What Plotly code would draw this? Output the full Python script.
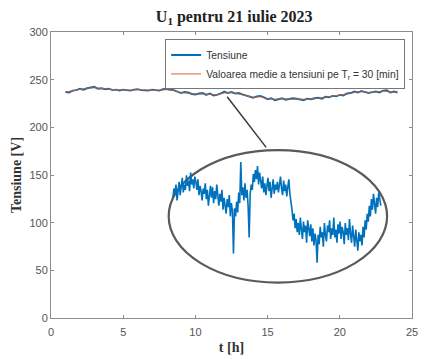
import numpy as np
import plotly.graph_objects as go

# ---- data ----
# voltage samples every 15 min from 1 h to 24 h
t_hours = list(np.arange(1.0, 24.001, 0.25))
tensiune = [237.0, 236.5, 238.5, 239.0, 240.5, 239.5, 241.0, 241.5, 242.5, 240.5, 241.0, 240.0,
            240.5, 239.0, 239.5, 238.5, 239.5, 239.0, 238.5, 239.5, 240.0, 239.0, 239.0, 238.5,
            239.5, 239.0, 238.5, 240.0, 240.5, 239.5, 239.0, 237.5, 236.0, 237.0, 236.5, 235.0,
            234.5, 235.5, 236.0, 234.0, 235.5, 233.5, 234.0, 235.5, 237.5, 236.0, 237.0, 235.5,
            236.0, 234.5, 233.5, 232.0, 231.0, 232.5, 233.0, 231.5, 229.5, 230.5, 228.5, 229.5,
            230.5, 229.0, 229.5, 230.5, 230.0, 229.0, 228.5, 230.0, 229.5, 230.5, 231.0, 230.0,
            232.0, 231.5, 233.0, 232.5, 234.0, 233.5, 235.5, 236.0, 237.5, 236.5, 238.0, 237.0,
            236.0, 237.0, 237.5, 236.5, 238.5, 239.0, 236.5, 237.5, 236.5]
# 30-min mean
t_medie = [1.0, 1.5, 2.0, 2.5, 3.0, 3.5, 4.0, 4.5, 5.0, 5.5, 6.0, 6.5, 7.0, 7.5, 8.0, 8.5,
           9.0, 9.5, 10.0, 10.5, 11.0, 11.5, 12.0, 12.5, 13.0, 13.5, 14.0, 14.5, 15.0, 15.5,
           16.0, 16.5, 17.0, 17.5, 18.0, 18.5, 19.0, 19.5, 20.0, 20.5, 21.0, 21.5, 22.0,
           22.5, 23.0, 23.5, 24.0]
medie = [237.0, 238.5, 240.0, 241.0, 241.5, 240.5, 240.0, 239.5, 239.0, 239.0, 239.5,
         239.0, 239.0, 239.0, 239.5, 238.5, 236.5, 236.0, 235.0, 235.0, 234.5, 234.0,
         236.0, 236.5, 235.0, 233.5, 231.5, 232.0, 230.0, 229.5, 230.0, 229.5, 229.5,
         229.0, 229.5, 230.5, 231.5, 232.5, 233.5, 235.0, 236.5, 237.5, 236.5, 237.0,
         238.0, 237.0, 237.0]

# zoomed detail (inset) samples, arbitrary units
inset_values = [64, 71, 67, 74, 62, 70, 76, 66, 72, 79, 68, 74, 70, 81, 73, 77, 69, 83, 74, 78,
                71, 80, 76, 70, 78, 66, 73, 69, 62, 71, 67, 75, 63, 70, 58, 68, 73, 64, 72, 60,
                69, 63, 74, 66, 58, 67, 61, 70, 55, 64, 59, 52, 63, 57, 66, 50, 60, 54, 22, 56,
                50, 61, 53, 68, 60, 91, 66, 72, 62, 75, 64, 70, 58, 34, 67, 74, 70, 82, 76, 85,
                78, 88, 74, 83, 77, 71, 80, 68, 75, 66, 73, 79, 69, 76, 64, 72, 78, 67, 74, 70,
                76, 68, 73, 80, 71, 66, 77, 69, 74, 65, 72, 78, 67, 62, 55, 47, 52, 41, 48, 38,
                45, 36, 49, 40, 33, 46, 38, 43, 30, 47, 39, 35, 44, 31, 41, 28, 37, 32, 15, 36,
                29, 42, 34, 38, 27, 45, 36, 31, 43, 38, 47, 33, 41, 36, 49, 34, 40, 30, 44, 37,
                46, 33, 42, 38, 29, 45, 36, 41, 32, 48, 37, 30, 43, 35, 27, 40, 33, 24, 38, 31,
                36, 28, 42, 34, 47, 40, 52, 46, 58, 50, 63, 55, 67, 59, 52, 64, 57, 68, 61, 58]
inset_index = list(range(len(inset_values)))

x_ticks = [0, 5, 10, 15, 20, 25]
y_ticks = [0, 50, 100, 150, 200, 250, 300]

# decoration geometry
pointer_start = (12.2, 232)
pointer_end = (14.9, 179)
ellipse_box = dict(x0=0.326, x1=0.931, y0=0.124, y1=0.587)

BLUE = "#0072BD"
ORANGE = "#D95319"
AX = "#8c8c8c"
TXT = "#555555"
SANS = "Liberation Sans, Arial, sans-serif"
SERIF = "Liberation Serif, Times New Roman, serif"

fig = go.Figure()
fig.add_trace(go.Scatter(x=t_hours, y=tensiune, mode="lines", name="Tensiune",
                         line=dict(color=BLUE, width=1.9)))
fig.add_trace(go.Scatter(x=t_medie, y=medie, mode="lines",
                         name="Valoarea medie a tensiuni pe T<sub>r</sub> = 30 [min]",
                         line=dict(color=ORANGE, width=0.9)))
fig.add_trace(go.Scatter(x=inset_index, y=inset_values, mode="lines", showlegend=False,
                         xaxis="x2", yaxis="y2", line=dict(color=BLUE, width=1.6)))

fig.add_shape(type="circle", xref="paper", yref="paper", layer="below",
              fillcolor="white", line=dict(color="#5a5a5a", width=2.2), **ellipse_box)
fig.add_shape(type="line", xref="x", yref="y",
              x0=pointer_start[0], y0=pointer_start[1], x1=pointer_end[0], y1=pointer_end[1],
              line=dict(color="#3a3a3a", width=1.5))

axis_common = dict(showgrid=False, zeroline=False, showline=True, linecolor=AX, linewidth=1,
                   mirror="ticks", ticks="inside", ticklen=3, tickcolor=AX,
                   tickfont=dict(family=SANS, size=11, color=TXT))

fig.update_layout(
    width=425, height=359,
    margin=dict(l=51, r=7, t=32, b=41),
    plot_bgcolor="rgba(0,0,0,0)", paper_bgcolor="white",
    title=dict(text="<b>U<sub>1</sub> pentru 21 iulie 2023</b>", x=0.551, xanchor="center",
               y=0.955, yanchor="middle",
               font=dict(family=SERIF, size=16, color="#222222")),
    xaxis=dict(range=[0, 25], tickvals=x_ticks, domain=[0, 1], ticklabelstandoff=4,
               title=dict(text="<b>t [h]</b>", standoff=4,
                          font=dict(family=SERIF, size=14, color="#333333")),
               **axis_common),
    yaxis=dict(range=[0, 300], tickvals=y_ticks, domain=[0, 1],
               title=dict(text="<b>Tensiune [V]</b>", standoff=4,
                          font=dict(family=SERIF, size=14, color="#333333")),
               **axis_common),
    xaxis2=dict(domain=[ellipse_box["x0"], ellipse_box["x1"]], range=[-4, 205],
                anchor="y2", visible=False),
    yaxis2=dict(domain=[ellipse_box["y0"], ellipse_box["y1"]], range=[0, 100],
                anchor="x2", visible=False),
    legend=dict(x=0.981, xanchor="right", y=0.974, yanchor="top",
                bgcolor="white", bordercolor="#777777", borderwidth=1,
                font=dict(family=SANS, size=10.3, color="#333333"),
                itemwidth=30, tracegroupgap=0),
    showlegend=True,
)

fig.write_html("out.html")
